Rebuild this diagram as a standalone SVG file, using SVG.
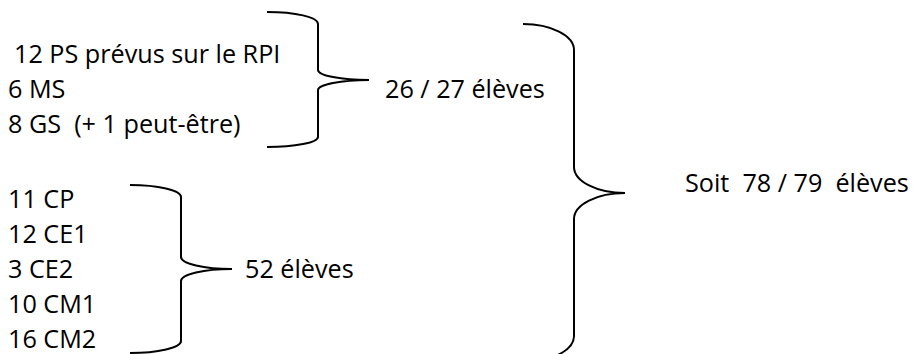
<svg xmlns="http://www.w3.org/2000/svg" width="916" height="354" viewBox="0 0 916 354">
<style>
text{font-family:"Open Sans","Noto Sans","Liberation Sans",sans-serif;font-size:25.2px;fill:#000;white-space:pre}
.brace{fill:none;stroke:#000;stroke-width:2;stroke-linecap:butt}
</style>
<rect width="916" height="354" fill="#fff"/>
<g id="maternelle">
<text x="14" y="63">12 PS prévus sur le RPI</text>
<text x="8" y="98">6 MS</text>
<text x="8" y="133">8 GS  (+ 1 peut-être)</text>
</g>
<g id="elementaire">
<text x="8" y="208">11 CP</text>
<text x="8" y="243">12 CE1</text>
<text x="8" y="278">3 CE2</text>
<text x="8" y="313">10 CM1</text>
<text x="8" y="348">16 CM2</text>
</g>
<g id="total-maternelle"><text x="385" y="98">26 / 27 élèves</text></g>
<g id="total-elementaire"><text x="245" y="278">52 élèves</text></g>
<g id="total"><text x="685" y="192">Soit  78 / 79  élèves</text></g>
<g id="connectors">
<path class="brace" d="M267,12 C295,12 318,17 318,24 L318,70 C318,75.5 341,80 369,80 C341,80 318,84.5 318,90 L318,137 C318,142.5 295,147 267,147"/>
<path class="brace" d="M130,185 C158,185 181,190.4 181,197 L181,257 C181,263.6 204,269 232,269 C204,269 181,274.4 181,281 L181,341 C181,347.6 158,353 130,353"/>
<path class="brace" d="M523,24 C551,24 574,35.6 574,50 L574,167 C574,181.4 597,193 625,193 C597,193 574,204.6 574,219 L574,336 C574,350.4 551,362 523,362"/>
</g>
</svg>
